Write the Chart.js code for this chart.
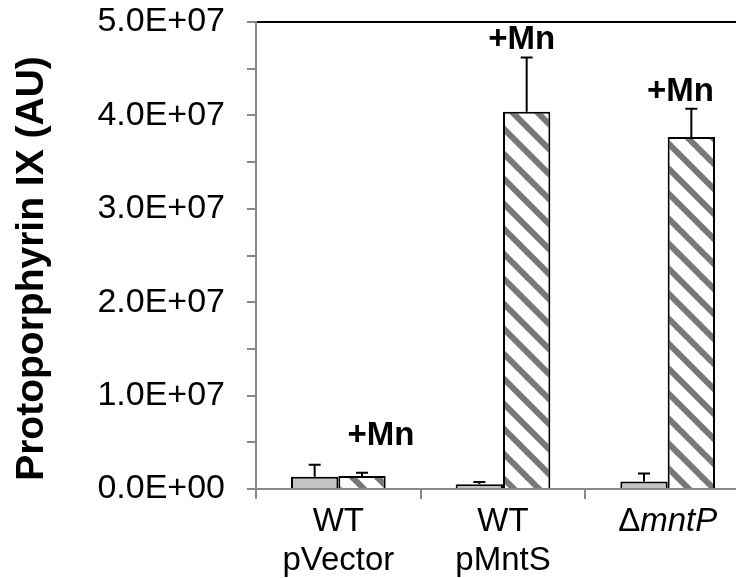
<!DOCTYPE html>
<html><head><meta charset="utf-8">
<script src="https://cdn.jsdelivr.net/npm/chart.js@4.4.0/dist/chart.umd.min.js"></script>
<style>html,body{margin:0;padding:0;background:#fff;overflow:hidden}
#wrap{width:736px;height:578px;overflow:hidden;position:relative;background:#fff}
canvas{display:block}</style></head>
<body><div id="wrap"><canvas id="c" width="750" height="578"></canvas></div>
<script>
const categories = [["WT","pVector"],["WT","pMntS"],["Δ","mntP"]];
const seriesNames = ["No Mn","+Mn"];
const noMnValues = [1.3e6, 0.5e6, 0.8e6];
const noMnErrors = [1.3e6, 0.25e6, 0.85e6];
const mnValues = [1.4e6, 4.04e7, 3.77e7];
const mnErrors = [0.35e6, 0.58e7, 0.3e7];
const mnLabels = ["+Mn","+Mn","+Mn"];
const yTickValues = [0,1e7,2e7,3e7,4e7,5e7];
const yTickLabels = ["0.0E+00","1.0E+07","2.0E+07","3.0E+07","4.0E+07","5.0E+07"];
const yTitle = "Protoporphyrin IX (AU)";

const FONT = "'Liberation Sans', Arial, sans-serif";
const canvas = document.getElementById('c');
const ctx0 = canvas.getContext('2d');
const hatch = (() => {
  const p = 25; const c = document.createElement('canvas'); c.width = p; c.height = p;
  const g = c.getContext('2d'); g.fillStyle = '#fff'; g.fillRect(0,0,p,p);
  g.strokeStyle = '#777'; g.lineWidth = 6;
  for (const k of [-p,0,p]) { g.beginPath(); g.moveTo(-3,k-3); g.lineTo(p+3,p+k+3); g.stroke(); }
  return ctx0.createPattern(c,'repeat');
})();

const errorBars = { id:'errorBars', afterDatasetsDraw(chart){
  const ctx = chart.ctx, y = chart.scales.y;
  [noMnErrors, mnErrors].forEach((errs,di) => {
    chart.getDatasetMeta(di).data.forEach((bar,i) => {
      const v = chart.data.datasets[di].data[i];
      const top = y.getPixelForValue(v + errs[i]), base = y.getPixelForValue(v);
      ctx.save(); ctx.strokeStyle = '#000'; ctx.lineWidth = 2; ctx.beginPath();
      ctx.moveTo(bar.x, base); ctx.lineTo(bar.x, top);
      ctx.moveTo(bar.x-6, top); ctx.lineTo(bar.x+6, top); ctx.stroke(); ctx.restore();
    });
  });
}};

const extras = { id:'extras', afterDraw(chart, args, opts){
  const ctx = chart.ctx, a = chart.chartArea, x = chart.scales.x, y = chart.scales.y;
  ctx.save();
  ctx.strokeStyle = '#000'; ctx.lineWidth = 2;
  ctx.beginPath(); ctx.moveTo(a.left+1, a.top); ctx.lineTo(a.right, a.top); ctx.stroke();
  ctx.fillStyle = '#000'; ctx.font = "bold 33px " + FONT; ctx.textAlign = 'center'; ctx.textBaseline = 'alphabetic';
  chart.getDatasetMeta(1).data.forEach((bar,i) => {
    const top = y.getPixelForValue(mnValues[i] + mnErrors[i]);
    const o = opts.labelOffsets[i];
    ctx.fillText(mnLabels[i], bar.x + o[0], top + o[1]);
  });
  const cx = x.getPixelForValue(2), cy = opts.catLabelY;
  ctx.textBaseline = 'middle'; ctx.textAlign = 'left';
  const f1 = "33px " + FONT, f2 = "italic 33px " + FONT;
  ctx.font = f1; const w1 = ctx.measureText(categories[2][0]).width;
  ctx.font = f2; const w2 = ctx.measureText(categories[2][1]).width;
  const sx = cx - (w1 + w2)/2;
  ctx.font = f1; ctx.fillText(categories[2][0], sx, cy);
  ctx.font = f2; ctx.fillText(categories[2][1], sx + w1, cy);
  ctx.font = "bold 39px " + FONT; ctx.textAlign = 'center'; ctx.textBaseline = 'alphabetic';
  ctx.translate(opts.titleX, (a.top + a.bottom)/2 + opts.titleShift); ctx.rotate(-Math.PI/2);
  ctx.fillText(yTitle, 0, 0);
  ctx.restore();
}};

new Chart(canvas, {
  type: 'bar',
  data: {
    labels: categories.map(c => c.join(' ')),
    datasets: [
      { label: seriesNames[0], data: noMnValues, backgroundColor: '#c3c3c3', borderColor: '#000', borderWidth: 2 },
      { label: seriesNames[1], data: mnValues, backgroundColor: hatch, borderColor: '#000', borderWidth: 2 }
    ]
  },
  options: {
    responsive: false, animation: false, devicePixelRatio: 1,
    layout: { padding: { top: 22, left: 0, right: 0, bottom: 0 } },
    datasets: { bar: { barPercentage: 1.0, categoryPercentage: 0.575 } },
    plugins: { legend: { display: false }, tooltip: { enabled: false },
      extras: { labelOffsets: [[19,-28],[-5,-8],[-11,-8]], catLabelY: 522, titleX: 43, titleShift: 13 } },
    scales: {
      x: {
        grid: { drawOnChartArea: false, drawTicks: true, tickLength: 10, color: '#888', lineWidth: 2, offset: true },
        border: { display: true, color: '#888', width: 2 },
        ticks: { color: '#000', font: { family: FONT, size: 33, lineHeight: 1.2 }, padding: 3, maxRotation: 0, autoSkip: false,
          callback: (v, i) => i === 2 ? '' : categories[i] },
        afterFit: s => { s.height = 89; s.paddingLeft = 0; s.paddingRight = 0; }
      },
      y: {
        min: 0, max: 5e7,
        grid: { drawOnChartArea: false, drawTicks: true, tickLength: 9, color: '#888', lineWidth: 2 },
        border: { display: true, color: '#888', width: 2 },
        ticks: { stepSize: 5e6, autoSkip: false, color: '#000', padding: 22, font: { family: FONT, size: 34 },
          callback: v => { const i = yTickValues.indexOf(v); return i >= 0 ? yTickLabels[i] : ''; } },
        afterFit: s => { s.width = 256; s.paddingTop = 0; s.paddingBottom = 0; }
      }
    }
  },
  plugins: [errorBars, extras]
});
</script></body></html>
